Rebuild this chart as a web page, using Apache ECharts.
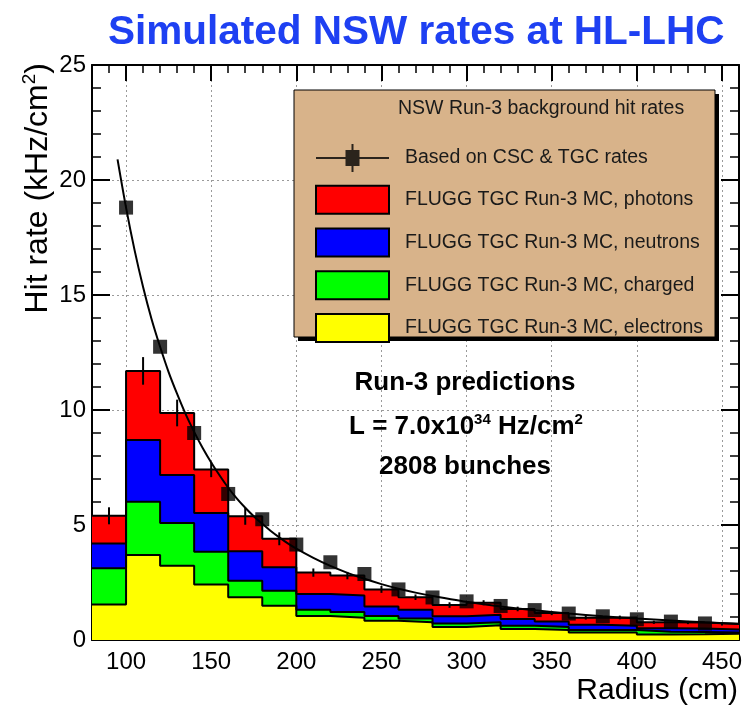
<!DOCTYPE html>
<html>
<head>
<meta charset="utf-8">
<script src="https://cdn.jsdelivr.net/npm/echarts@6/dist/echarts.min.js"></script>
<style>
  html, body { margin: 0; padding: 0; background: #fff; }
  #chart { width: 742px; height: 705px; }
</style>
</head>
<body>
<div id="chart"></div>
<script>
// Radius bins (cm): 20 cm wide, 80 .. 460
const binEdges = [80, 100, 120, 140, 160, 180, 200, 220, 240, 260, 280, 300, 320, 340, 360, 380, 400, 420, 440, 460];

// FLUGG TGC Run-3 MC contributions per bin (kHz/cm2)
const electrons = [1.54, 3.70, 3.23, 2.41, 1.86, 1.49, 1.04, 0.97, 0.84, 0.77, 0.56, 0.64, 0.48, 0.43, 0.33, 0.33, 0.24, 0.25, 0.27];
const charged   = [1.58, 2.31, 1.86, 1.43, 0.72, 0.65, 0.28, 0.25, 0.20, 0.16, 0.16, 0.13, 0.14, 0.13, 0.11, 0.11, 0.12, 0.10, 0.06];
const neutrons  = [1.08, 2.69, 2.08, 1.68, 1.28, 1.02, 0.68, 0.71, 0.42, 0.39, 0.31, 0.33, 0.29, 0.24, 0.22, 0.18, 0.15, 0.15, 0.13];
const photons   = [1.20, 3.00, 2.70, 1.89, 1.52, 1.24, 0.93, 0.87, 0.74, 0.54, 0.49, 0.52, 0.44, 0.37, 0.31, 0.36, 0.26, 0.26, 0.24];
// statistical uncertainty on the summed MC rate
const mcStatErr = [0.37, 0.60, 0.58, 0.33, 0.37, 0.28, 0.18, 0.16, 0.15, 0.12, 0.12, 0.11, 0.10, 0.09, 0.08, 0.08, 0.07, 0.07, 0.07];

// Rates extrapolated from CSC & TGC measurements
const measRadius = [100, 120, 140, 160, 180, 200, 220, 240, 260, 280, 300, 320, 340, 360, 380, 400, 420, 440];
const measRate   = [18.8, 12.75, 9.0, 6.35, 5.25, 4.15, 3.38, 2.87, 2.2, 1.85, 1.68, 1.48, 1.3, 1.15, 1.03, 0.9, 0.8, 0.72];

// Fitted curve through the measured rates
const fitRadius = [95, 100, 105, 110, 115, 120, 125, 130, 135, 140, 145, 150, 155, 160, 165, 170, 175, 180, 185, 190, 195, 200,
                   210, 220, 230, 240, 250, 260, 270, 280, 290, 300, 320, 340, 360, 380, 400, 420, 440, 460];
const fitRate   = [20.9, 18.8, 16.95, 15.35, 13.95, 12.75, 11.65, 10.7, 9.82, 9.05, 8.35, 7.72, 7.15, 6.62, 6.16, 5.75, 5.38, 5.05, 4.74, 4.46, 4.2, 3.97,
                   3.57, 3.22, 2.92, 2.66, 2.43, 2.23, 2.06, 1.91, 1.78, 1.66, 1.46, 1.29, 1.15, 1.03, 0.93, 0.85, 0.77, 0.71];

// Axis ticks
const xMajorTicks = [100, 150, 200, 250, 300, 350, 400, 450];

const names = {
  meas: 'Based on CSC & TGC rates',
  photons: 'FLUGG TGC Run-3 MC, photons',
  neutrons: 'FLUGG TGC Run-3 MC, neutrons',
  charged: 'FLUGG TGC Run-3 MC, charged',
  electrons: 'FLUGG TGC Run-3 MC, electrons'
};
const colors = { photons: '#ff0000', neutrons: '#0000ff', charged: '#00ff00', electrons: '#ffff00' };
const FONT = '"Liberation Sans", Arial, Helvetica, sans-serif';

// Stack the contributions: each layer is drawn from zero up to its cumulative sum
function addArrays(a, b) { return a.map((v, i) => v + b[i]); }
const stackE = electrons.slice();
const stackEC = addArrays(stackE, charged);
const stackECN = addArrays(stackEC, neutrons);
const stackAll = addArrays(stackECN, photons);

// Step outline points: one point per lower bin edge plus the closing edge
function stepPoints(values) {
  const pts = values.map((v, i) => [binEdges[i], v]);
  pts.push([binEdges[binEdges.length - 1], values[values.length - 1]]);
  return pts;
}
function layerSeries(name, color, values) {
  return {
    name: name, type: 'line', step: 'end', symbol: 'none',
    data: stepPoints(values),
    lineStyle: { color: '#000', width: 2 },
    itemStyle: { color: color },
    areaStyle: { color: color, opacity: 1 },
    emphasis: { disabled: true }, z: 2
  };
}

const errData = stackAll.map((v, i) => [(binEdges[i] + binEdges[i + 1]) / 2, v, mcStatErr[i]]);

const axisBlack = { color: '#000', width: 2 };
const gridDots = { show: true, lineStyle: { color: '#9a9a9a', width: 1, type: [2, 3] } };

const chart = echarts.init(document.getElementById('chart'), null, { renderer: 'canvas' });
chart.setOption({
  animation: false,
  backgroundColor: '#fff',
  title: {
    text: 'Simulated NSW rates at HL-LHC',
    left: 108, top: 12, padding: 0,
    textStyle: { fontSize: 40.5, fontWeight: 'bold', color: '#1e40f2', fontFamily: FONT }
  },
  grid: { left: 92, right: 3, top: 65, bottom: 65, outerBoundsMode: 'none', containLabel: false },
  xAxis: [
    { // minor ticks every 10 cm
      type: 'value', min: 80, max: 460, interval: 10, position: 'bottom',
      axisLine: { show: true, onZero: false, lineStyle: axisBlack },
      axisTick: { show: true, inside: true, length: 8, lineStyle: { color: '#000', width: 1.5 } },
      axisLabel: { show: false }, splitLine: { show: false }
    },
    { // labelled ticks, grid lines and title
      type: 'value', min: 80, max: 460, position: 'bottom',
      axisLine: { show: false, onZero: false },
      axisTick: { show: true, inside: true, length: 16, customValues: xMajorTicks, lineStyle: { color: '#000', width: 2 } },
      axisLabel: { show: true, customValues: xMajorTicks, margin: 10, fontSize: 24, color: '#000', fontFamily: FONT },
      splitLine: gridDots,
      name: 'Radius (cm)', nameLocation: 'end', nameGap: -1,
      nameTextStyle: { fontSize: 30, color: '#000', fontFamily: FONT, align: 'right', verticalAlign: 'top', padding: [36, 0, 0, 0] }
    },
    {
      type: 'value', min: 80, max: 460, interval: 10, position: 'top',
      axisLine: { show: true, onZero: false, lineStyle: axisBlack },
      axisTick: { show: true, inside: true, length: 8, lineStyle: { color: '#000', width: 1.5 } },
      axisLabel: { show: false }, splitLine: { show: false }
    },
    {
      type: 'value', min: 80, max: 460, position: 'top',
      axisLine: { show: false, onZero: false },
      axisTick: { show: true, inside: true, length: 16, customValues: xMajorTicks, lineStyle: { color: '#000', width: 2 } },
      axisLabel: { show: false }, splitLine: { show: false }
    }
  ],
  yAxis: [
    {
      type: 'value', min: 0, max: 25, interval: 5, position: 'left',
      axisLine: { show: true, onZero: false, lineStyle: axisBlack },
      axisTick: { show: true, inside: true, length: 18, lineStyle: { color: '#000', width: 2 } },
      minorTick: { show: true, splitNumber: 5, length: 9, lineStyle: { color: '#000', width: 1.5 } },
      axisLabel: { show: true, margin: 6, fontSize: 24, color: '#000', fontFamily: FONT },
      splitLine: gridDots
    },
    {
      type: 'value', min: 0, max: 25, interval: 5, position: 'right',
      axisLine: { show: true, onZero: false, lineStyle: axisBlack },
      axisTick: { show: true, inside: true, length: 18, lineStyle: { color: '#000', width: 2 } },
      minorTick: { show: true, splitNumber: 5, length: 9, lineStyle: { color: '#000', width: 1.5 } },
      axisLabel: { show: false }, splitLine: { show: false }
    }
  ],
  legend: {
    orient: 'vertical', left: 310, top: 139, z: 10,
    itemWidth: 73, itemHeight: 28, itemGap: 12.75,
    selectedMode: false, symbolKeepAspect: false,
    textStyle: { fontSize: 19.5, color: '#1a1a1a', fontFamily: FONT, padding: [0, 0, 0, 11] },
    data: [
      { name: names.meas, icon: 'path://M0,13L73,13L73,15L0,15Z M29.5,6.5L43.5,6.5L43.5,21.5L29.5,21.5Z M35.5,1L37.5,1L37.5,27L35.5,27Z', itemStyle: { color: '#000' } },
      { name: names.photons, icon: 'rect', itemStyle: { color: colors.photons, borderColor: '#000', borderWidth: 2 } },
      { name: names.neutrons, icon: 'rect', itemStyle: { color: colors.neutrons, borderColor: '#000', borderWidth: 2 } },
      { name: names.charged, icon: 'rect', itemStyle: { color: colors.charged, borderColor: '#000', borderWidth: 2 } },
      { name: names.electrons, icon: 'rect', itemStyle: { color: colors.electrons, borderColor: '#000', borderWidth: 2 } }
    ]
  },
  graphic: [
    { type: 'rect', z: 5, shape: { x: 298, y: 94, width: 421, height: 247 }, style: { fill: '#000' } },
    { type: 'rect', z: 6, shape: { x: 294, y: 90, width: 421, height: 247 }, style: { fill: '#d8b38a', stroke: '#000', lineWidth: 1 } },
    { type: 'text', z: 7, x: 398, y: 109,
      style: { text: 'NSW Run-3 background hit rates', font: '19.5px ' + FONT, fill: '#1a1a1a', align: 'left', verticalAlign: 'middle' } },
    { type: 'text', z: 7, x: 465, y: 383,
      style: { text: 'Run-3 predictions', font: 'bold 26px ' + FONT, fill: '#000', align: 'center', verticalAlign: 'middle' } },
    { type: 'text', z: 7, x: 466, y: 427,
      style: {
        text: '{b|L = 7.0x10}{s|34}{b| Hz/cm}{s|2}',
        align: 'center', verticalAlign: 'middle',
        rich: {
          b: { fontSize: 26, fontWeight: 'bold', fontFamily: FONT, fill: '#000', lineHeight: 30 },
          s: { fontSize: 15, fontWeight: 'bold', fontFamily: FONT, fill: '#000', verticalAlign: 'top', lineHeight: 30 }
        }
      } },
    { type: 'text', z: 7, x: 465, y: 467,
      style: { text: '2808 bunches', font: 'bold 26px ' + FONT, fill: '#000', align: 'center', verticalAlign: 'middle' } },
    { type: 'text', z: 7, x: 38, y: 63, rotation: Math.PI / 2,
      style: {
        text: '{a|Hit rate (kHz/cm}{s|2}{a|)}',
        align: 'right', verticalAlign: 'middle',
        rich: {
          a: { fontSize: 32, fontFamily: FONT, fill: '#000', lineHeight: 36 },
          s: { fontSize: 19, fontFamily: FONT, fill: '#000', verticalAlign: 'top', lineHeight: 36 }
        }
      } }
  ],
  series: [
    layerSeries(names.photons, colors.photons, stackAll),
    layerSeries(names.neutrons, colors.neutrons, stackECN),
    layerSeries(names.charged, colors.charged, stackEC),
    layerSeries(names.electrons, colors.electrons, stackE),
    {
      name: 'MC stat. error', type: 'custom', z: 3,
      data: errData,
      encode: { x: 0, y: 1 },
      renderItem: function (params, api) {
        const x = api.value(0), y = api.value(1), e = api.value(2);
        const p1 = api.coord([x, y - e]);
        const p2 = api.coord([x, y + e]);
        return { type: 'line', shape: { x1: p1[0], y1: p1[1], x2: p2[0], y2: p2[1] }, style: { stroke: '#000', lineWidth: 2 } };
      }
    },
    {
      name: 'fit', type: 'line', smooth: 0.3, symbol: 'none', z: 4,
      data: fitRadius.map((r, i) => [r, fitRate[i]]),
      lineStyle: { color: '#000', width: 2 }, emphasis: { disabled: true }
    },
    {
      name: names.meas, type: 'scatter', symbol: 'rect', symbolSize: 14, z: 5,
      data: measRadius.map((r, i) => [r, measRate[i]]),
      itemStyle: { color: '#000' }, emphasis: { disabled: true }
    }
  ]
});
</script>
</body>
</html>
